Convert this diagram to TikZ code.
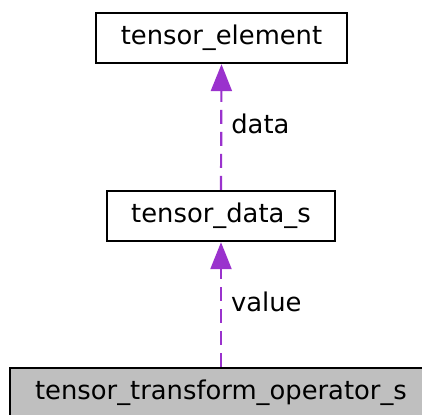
\documentclass[tikz,border=0pt]{standalone}
\usepackage{fontspec}
\setmainfont{DejaVu Sans}
\usepackage{tikz}
\usetikzlibrary{arrows.meta}
\definecolor{DGPurple}{HTML}{9A32CD}
\definecolor{DGGrey}{HTML}{BFBFBF}

\begin{document}
\begin{tikzpicture}[
  x=1pt,y=-1pt,
  every node/.style={font=\fontsize{25.8}{30}\selectfont},
  cls/.style={draw=black,line width=2.4pt,fill=white,minimum height=50pt,inner sep=0pt},
  curcls/.style={cls,fill=DGGrey},
  uses/.style={draw=DGPurple,line width=2.2pt,dash pattern=on 14pt off 8pt,-{Triangle[length=27pt,width=21pt]}},
  lbl/.style={anchor=west,inner sep=0pt,xshift=9pt,yshift=3pt}
]
\useasboundingbox (0,0) rectangle (422,414);
\fill[white] (0,0) rectangle (422,414);

\node[cls,minimum width=251pt] (elem) at (221.5,38) {tensor\_element};
\node[cls,minimum width=228pt] (tdata) at (221,216) {tensor\_data\_s};
\node[curcls,minimum width=422pt] (top) at (221,393) {tensor\_transform\_operator\_s};

\draw[uses] (tdata.north) -- node[lbl]{data} (elem.south);
\draw[uses] (top.north) -- node[lbl]{value} (tdata.south);
\end{tikzpicture}
\end{document}
